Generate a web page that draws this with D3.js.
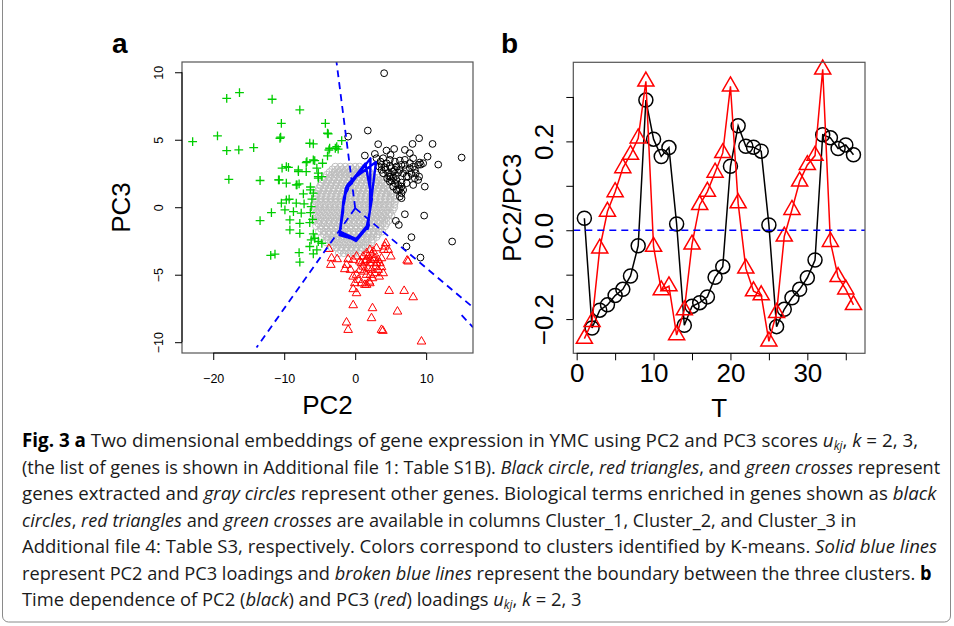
<!doctype html>
<html lang="en">
<head>
<meta charset="utf-8">
<title>Fig. 3</title>
<script src="https://cdn.jsdelivr.net/npm/d3@7"></script>
<style>
  body { margin: 0; background: #fff; }
  svg { display: block; font-family: "Liberation Sans", Arial, sans-serif; }
</style>
</head>
<body>
<script>
// ---- panel b: loadings u_kj against time T ----
var timeT = [1,2,3,4,5,6,7,8,9,10,11,12,13,14,15,16,17,18,19,20,21,22,23,24,25,26,27,28,29,30,31,32,33,34,35,36];
var pc2Loadings = [0.027,-0.220,-0.180,-0.168,-0.147,-0.133,-0.103,-0.035,0.293,0.205,0.166,0.186,
                   0.014,-0.214,-0.171,-0.163,-0.150,-0.106,-0.082,0.144,0.235,0.189,0.187,0.178,
                   0.012,-0.217,-0.178,-0.152,-0.133,-0.107,-0.067,0.215,0.208,0.184,0.192,0.170];
var pc3Loadings = [-0.244,-0.206,-0.041,0.042,0.086,0.140,0.170,0.207,0.335,-0.037,-0.135,-0.126,
                   -0.236,-0.180,-0.032,0.057,0.087,0.130,0.174,0.324,0.061,-0.086,-0.137,-0.146,
                   -0.250,-0.186,-0.014,0.046,0.110,0.147,0.168,0.362,-0.026,-0.105,-0.133,-0.168];
var bXTicks = [0,5,10,15,20,25,30,35];
var bXLabels = [0,10,20,30];
var bYTicks = [-0.2,-0.1,0,0.1,0.2,0.3];
var bYLabels = [-0.2,0,0.2];

// ---- panel a: PC2 / PC3 scores ----
var aXTicks = [-20,-10,0,10];
var aYTicks = [-10,-5,0,5,10];
var loadingScale = 10;   // loadings drawn on the score plane

// grey "other genes", one row per PC3 level
var grayRows = [
  [3.0, [-2.8,-2.1,-1.4,-0.7,0.0,0.6]],
  [2.8, [-3.2,-2.5,-1.8,-1.1,-0.4,0.3,1.0]],
  [2.6, [-3.6,-2.9,-2.2,-1.5,-0.8,-0.1,0.6,1.3,2.0]],
  [2.4, [-4.0,-3.3,-2.6,-1.9,-1.2,-0.5,0.2,0.9,1.6,2.3,3.0]],
  [2.2, [-4.3,-3.6,-2.9,-2.2,-1.5,-0.8,-0.1,0.6,1.3,2.0,2.7,3.3]],
  [2.0, [-4.5,-3.8,-3.1,-2.4,-1.7,-1.0,-0.3,0.4,1.1,1.8,2.5,3.2,3.8]],
  [1.8, [-4.7,-4.0,-3.3,-2.6,-1.9,-1.2,-0.5,0.2,0.9,1.6,2.3,3.0,3.7,4.2]],
  [1.6, [-4.9,-4.2,-3.5,-2.8,-2.1,-1.4,-0.7,0.0,0.7,1.4,2.1,2.8,3.5,4.2]],
  [1.4, [-5.1,-4.4,-3.7,-3.0,-2.3,-1.6,-0.9,-0.2,0.5,1.2,1.9,2.6,3.3,4.0,4.6]],
  [1.2, [-5.2,-4.5,-3.8,-3.1,-2.4,-1.7,-1.0,-0.3,0.4,1.1,1.8,2.5,3.2,3.9,4.6,5.0]],
  [1.0, [-5.4,-4.7,-4.0,-3.3,-2.6,-1.9,-1.2,-0.5,0.2,0.9,1.6,2.3,3.0,3.7,4.4,5.1]],
  [0.8, [-5.5,-4.8,-4.1,-3.4,-2.7,-2.0,-1.3,-0.6,0.1,0.8,1.5,2.2,2.9,3.6,4.3,5.0,5.5]],
  [0.6, [-5.6,-4.9,-4.2,-3.5,-2.8,-2.1,-1.4,-0.7,0.0,0.7,1.4,2.1,2.8,3.5,4.2,4.9,5.6]],
  [0.4, [-5.5,-4.8,-4.1,-3.4,-2.7,-2.0,-1.3,-0.6,0.1,0.8,1.5,2.2,2.9,3.6,4.3,5.0,5.6]],
  [0.2, [-5.8,-5.1,-4.4,-3.7,-3.0,-2.3,-1.6,-0.9,-0.2,0.5,1.2,1.9,2.6,3.3,4.0,4.7,5.5]],
  [0.0, [-5.6,-4.9,-4.2,-3.5,-2.8,-2.1,-1.4,-0.7,0.0,0.7,1.4,2.1,2.8,3.5,4.2,4.9,5.5]],
  [-0.2, [-5.9,-5.2,-4.5,-3.8,-3.1,-2.4,-1.7,-1.0,-0.3,0.4,1.1,1.8,2.5,3.2,3.9,4.6,5.3]],
  [-0.4, [-5.5,-4.8,-4.1,-3.4,-2.7,-2.0,-1.3,-0.6,0.1,0.8,1.5,2.2,2.9,3.6,4.3,4.9]],
  [-0.6, [-5.8,-5.1,-4.4,-3.7,-3.0,-2.3,-1.6,-0.9,-0.2,0.5,1.2,1.9,2.6,3.3,4.0,4.7,5.1]],
  [-0.8, [-5.4,-4.7,-4.0,-3.3,-2.6,-1.9,-1.2,-0.5,0.2,0.9,1.6,2.3,3.0,3.7,4.4]],
  [-1.0, [-5.7,-5.0,-4.3,-3.6,-2.9,-2.2,-1.5,-0.8,-0.1,0.6,1.3,2.0,2.7,3.4,4.1,4.7]],
  [-1.2, [-5.2,-4.5,-3.8,-3.1,-2.4,-1.7,-1.0,-0.3,0.4,1.1,1.8,2.5,3.2,3.9,4.4]],
  [-1.4, [-5.5,-4.8,-4.1,-3.4,-2.7,-2.0,-1.3,-0.6,0.1,0.8,1.5,2.2,2.9,3.6,4.2]],
  [-1.6, [-4.8,-4.1,-3.4,-2.7,-2.0,-1.3,-0.6,0.1,0.8,1.5,2.2,2.9,3.5]],
  [-1.8, [-5.1,-4.4,-3.7,-3.0,-2.3,-1.6,-0.9,-0.2,0.5,1.2,1.9,2.6,3.3,3.8]],
  [-2.0, [-4.4,-3.7,-3.0,-2.3,-1.6,-0.9,-0.2,0.5,1.2,1.9,2.6,3.2]],
  [-2.2, [-4.7,-4.0,-3.3,-2.6,-1.9,-1.2,-0.5,0.2,0.9,1.6,2.3,3.0]],
  [-2.4, [-3.8,-3.1,-2.4,-1.7,-1.0,-0.3,0.4,1.1,1.8,2.5]],
  [-2.6, [-4.1,-3.4,-2.7,-2.0,-1.3,-0.6,0.1,0.8,1.5,2.3]],
  [-2.8, [-3.0,-2.3,-1.6,-0.9,-0.2,0.5,1.2,1.8]],
  [-3.0, [-3.3,-2.6,-1.9,-1.2,-0.5,0.2,0.9,1.5]],
  [-3.2, [-2.0,-1.3,-0.6,0.1,0.8]],
  [-3.4, [-2.3,-1.6,-0.9,-0.2,0.5]]
];

var greenCrosses = [
  [-22.9,4.86],[-19.4,5.28],[-18.1,8.07],[-16.3,8.49],[-18.1,4.2],[-16.4,4.25],[-14.3,4.42],
  [-17.8,2.07],[-13.4,1.98],[-11.7,8.0],[-7.8,7.21],[-10.4,6.22],[-10.6,5.11],[-10.5,5.2],
  [-6.4,4.74],[-5.9,4.69],[-4.2,6.22],[-3.8,5.43],[-3.6,4.37],[-2.6,4.49],[-2.4,4.3],[-1.9,4.94],
  [-3.9,3.8],[-6.9,3.31],[-5.7,3.46],[-4.6,3.26],[-9.7,3.01],[-8.0,2.64],[-6.9,2.64],[-5.2,2.52],
  [-4.7,2.27],[-5.2,2.15],[-10.7,2.02],[-9.7,1.78],[-8.3,1.65],[-7.9,1.73],[-6.3,1.28],[-5.9,1.04],
  [-7.3,0.99],[-9.3,0.59],[-9.7,0.54],[-10.4,0.3],[-8.3,0.3],[-7.2,0.25],[-6.2,0.05],[-9.9,-0.2],
  [-8.7,-0.32],[-7.6,-0.44],[-6.3,-0.4],[-11.8,-0.4],[-9.2,-0.94],[-7.8,-1.19],[-6.4,-1.14],
  [-13.4,-0.99],[-9.2,-1.68],[-7.8,-1.93],[-5.9,-1.98],[-5.7,-2.3],[-6.2,-2.42],[-5.2,-2.54],
  [-4.7,-2.67],[-6.4,-2.91],[-5.4,-3.16],[-7.9,-3.36],[-11.9,-3.56],[-11.3,-3.48],[-7.8,-4.07],
  [-5.9,-3.46],[-10.3,2.89],[-6.8,3.38],[-5.9,3.5],[-5.4,2.9],[-8.0,2.76],[-9.4,2.96],[-8.2,1.65],
  [-6.3,1.5],[-5.2,2.27],[-10.8,2.02],[-3.7,4.24],[-2.8,4.37],[-3.9,5.48],[-6.0,-0.9],[-6.1,0.6]
];

var blackCircles = [
  [4.08,9.93],[1.78,5.68],[-0.99,5.23],[3.24,4.67],[1.36,3.83],[2.77,3.95],[4.41,4.2],[5.49,4.32],
  [4.98,3.88],[7.0,4.25],[8.08,4.69],[9.01,5.11],[10.9,4.69],[15.0,3.68],[11.7,3.16],[10.2,3.75],
  [9.25,3.16],[9.1,3.31],[8.17,3.63],[7.7,4.0],[7.0,3.51],[6.5,3.14],[5.82,3.01],[4.88,3.06],
  [4.18,2.96],[3.71,3.14],[3.57,3.38],[3.0,3.63],[3.94,3.63],[4.32,2.77],[4.65,2.52],[4.98,2.27],
  [5.35,2.15],[5.73,2.32],[6.06,2.57],[6.29,2.77],[6.76,2.52],[7.14,2.81],[7.46,2.27],[7.93,2.47],
  [8.4,2.15],[9.01,2.27],[8.87,2.02],[8.17,1.65],[7.23,1.78],[6.53,1.83],[6.06,1.65],[5.59,1.78],
  [5.12,1.98],[4.79,2.27],[5.35,2.64],[5.82,2.02],[6.29,1.33],[6.53,1.04],[6.29,0.79],[6.53,0.67],
  [9.81,1.53],[7.0,-0.52],[9.72,-0.62],[5.73,-1.01],[6.15,-1.31],[7.93,-2.22],[7.23,-2.91],
  [9.2,-3.73],[13.66,-2.54],[4.41,3.26],[5.12,2.89],[5.59,2.77],[4.88,1.9],[5.35,1.53],[5.82,1.28],
  [7.23,2.27],[7.7,2.89],[8.4,2.77],[8.87,3.14],[9.58,3.26],[5.59,3.38],[6.29,3.46],[7.0,3.14],
  [7.7,3.26],[8.17,3.01],[8.54,2.52],[4.51,2.15],[3.94,2.52],[3.71,2.77],[3.38,3.01],[4.88,3.51],
  [6.53,1.53],[6.06,1.28],[6.76,1.28]
];

var redTriangles = [
  [-3.71,-3.09],[-3.33,-3.78],[-2.54,-3.85],[-3.43,-4.27],[-0.99,-3.85],[-1.22,-4.27],[-1.46,-4.59],
  [-0.66,-4.64],[-0.28,-3.9],[0.19,-3.65],[0.66,-4.02],[1.13,-3.65],[1.6,-3.41],[2.07,-3.16],
  [2.54,-3.28],[3.0,-3.04],[1.6,-3.9],[2.07,-4.15],[2.54,-3.9],[3.0,-4.15],[1.13,-4.4],[0.66,-4.64],
  [0.19,-5.01],[0.42,-5.38],[0.89,-5.63],[1.36,-5.75],[1.97,-5.51],[2.44,-5.26],[2.77,-4.89],
  [3.24,-4.64],[3.71,-4.44],[3.94,-4.89],[3.47,-4.15],[4.18,-2.91],[4.65,-3.16],[5.02,-3.65],
  [4.32,-2.67],[-0.05,-5.63],[-0.28,-6.07],[0.19,-6.37],[1.6,-5.75],[2.07,-5.63],[-0.28,-7.26],
  [2.44,-7.48],[2.3,-8.22],[4.79,-6.2],[6.9,-6.2],[8.17,-6.67],[5.96,-7.73],[7.32,-3.95],
  [7.46,-4.02],[-1.22,-8.54],[-0.99,-9.09],[3.71,-9.09],[3.9,-9.16],[9.34,-9.95],[-0.28,-5.14],
  [1.83,-3.65],[2.3,-3.53],[2.77,-3.78],[1.36,-4.02],[0.89,-4.15],[1.83,-4.52],[2.3,-4.64],
  [2.91,-4.4],[3.24,-3.9],[3.71,-3.78],[2.16,-3.9],[1.22,-4.77],[1.6,-5.01],[2.16,-5.01],
  [3.38,-5.14],[4.04,-3.16]
];

// K-means boundaries: rays from a common centre
var boundaryCentre = [0, -0.07];
var boundaryEnds = [[-2.63, 10.76], [-13.9, -10.4], [16.6, -7.42]];
var boundaryExtra = [[15.0, -8.0], [16.6, -8.9]];

var captionLines = [
  [["Fig. 3", "b"], ["  a", "b"], [" Two dimensional embeddings of gene expression in YMC using PC2 and PC3 scores ", ""], ["u", "i"], ["kj", "s"], [", ", ""], ["k", "i"], [" = 2, 3,", ""]],
  [["(the list of genes is shown in Additional file 1: Table S1B). ", ""], ["Black circle", "i"], [", ", ""], ["red triangles", "i"], [", and ", ""], ["green crosses", "i"], [" represent", ""]],
  [["genes extracted and ", ""], ["gray circles", "i"], [" represent other genes. Biological terms enriched in genes shown as ", ""], ["black", "i"]],
  [["circles", "i"], [", ", ""], ["red triangles", "i"], [" and ", ""], ["green crosses", "i"], [" are available in columns Cluster_1, Cluster_2, and Cluster_3 in", ""]],
  [["Additional file 4: Table S3, respectively. Colors correspond to clusters identified by K-means. ", ""], ["Solid blue lines", "i"]],
  [["represent PC2 and PC3 loadings and ", ""], ["broken blue lines", "i"], [" represent the boundary between the three clusters. ", ""], ["b", "b"]],
  [["Time dependence of PC2 (", ""], ["black", "i"], [") and PC3 (", ""], ["red", "i"], [") loadings ", ""], ["u", "i"], ["kj", "s"], [", ", ""], ["k", "i"], [" = 2, 3", ""]]
];
var captionEnds = [919, 941, 937, 857, 938, 932, 582];

var W = 954, H = 626;
var svg = d3.select("body").append("svg").attr("width", W).attr("height", H);

// outer frame
svg.append("rect").attr("x", 2.5).attr("y", -8).attr("width", 948).attr("height", 630)
   .attr("rx", 6).attr("fill", "none").attr("stroke", "#8a8a8a").attr("stroke-width", 1);

function tri(r) {
  var h = r * Math.sqrt(3) / 2;
  return "M0," + (-r) + "L" + h + "," + (r / 2) + "L" + (-h) + "," + (r / 2) + "Z";
}

function styleAxis(g, size) {
  g.attr("font-family", null).attr("font-size", null);
  g.selectAll(".tick line").attr("stroke", "#000").attr("stroke-width", 1);
  g.selectAll(".tick text").attr("fill", "#000").style("font-size", size + "px");
}

// ================= panel a =================
var boxA = {x0: 182, x1: 473, y0: 62, y1: 353};
var xA = d3.scaleLinear().domain([-24.4, 16.6]).range([boxA.x0, boxA.x1]);
var yA = d3.scaleLinear().domain([-10.8, 10.76]).range([boxA.y1, boxA.y0]);

svg.append("clipPath").attr("id", "clipA").append("rect")
   .attr("x", boxA.x0).attr("y", boxA.y0).attr("width", boxA.x1 - boxA.x0).attr("height", boxA.y1 - boxA.y0);
var plotA = svg.append("g").attr("clip-path", "url(#clipA)");

var grayPts = [];
grayRows.forEach(function(row) {
  row[1].forEach(function(x) { grayPts.push([x, row[0]]); });
});

plotA.selectAll("circle.gray").data(grayPts).enter().append("circle")
     .attr("class", "gray")
     .attr("cx", d => xA(d[0])).attr("cy", d => yA(d[1])).attr("r", 3.5)
     .attr("fill", "none").attr("stroke", "#bebebe").attr("stroke-width", 1);

plotA.selectAll("path.cross").data(greenCrosses).enter().append("path")
     .attr("class", "cross")
     .attr("transform", d => "translate(" + xA(d[0]) + "," + yA(d[1]) + ")")
     .attr("d", "M-4.4,0H4.4M0,-4.4V4.4")
     .attr("stroke", "#00cd00").attr("stroke-width", 1.3).attr("fill", "none");

plotA.selectAll("circle.black").data(blackCircles).enter().append("circle")
     .attr("class", "black")
     .attr("cx", d => xA(d[0])).attr("cy", d => yA(d[1])).attr("r", 3.4)
     .attr("fill", "none").attr("stroke", "#000").attr("stroke-width", 1);

plotA.selectAll("path.tri").data(redTriangles).enter().append("path")
     .attr("class", "tri")
     .attr("transform", d => "translate(" + xA(d[0]) + "," + yA(d[1]) + ")")
     .attr("d", tri(5))
     .attr("stroke", "#ff0000").attr("stroke-width", 1).attr("fill", "none");

// boundaries (broken blue)
boundaryEnds.forEach(function(e) {
  plotA.append("line")
       .attr("x1", xA(boundaryCentre[0])).attr("y1", yA(boundaryCentre[1]))
       .attr("x2", xA(e[0])).attr("y2", yA(e[1]))
       .attr("stroke", "#0000ff").attr("stroke-width", 1.8).attr("stroke-dasharray", "7,5");
});
plotA.append("line")
     .attr("x1", xA(boundaryExtra[0][0])).attr("y1", yA(boundaryExtra[0][1]))
     .attr("x2", xA(boundaryExtra[1][0])).attr("y2", yA(boundaryExtra[1][1]))
     .attr("stroke", "#0000ff").attr("stroke-width", 1.8).attr("stroke-dasharray", "7,5");

// loadings (solid blue)
var loadPts = timeT.map((t, i) => [pc2Loadings[i] * loadingScale, pc3Loadings[i] * loadingScale]);
plotA.append("path").datum(loadPts)
     .attr("d", d3.line().x(d => xA(d[0])).y(d => yA(d[1])))
     .attr("fill", "none").attr("stroke", "#0000ff").attr("stroke-width", 2.4)
     .attr("stroke-linejoin", "round");

svg.append("rect").attr("x", boxA.x0).attr("y", boxA.y0)
   .attr("width", boxA.x1 - boxA.x0).attr("height", boxA.y1 - boxA.y0)
   .attr("fill", "none").attr("stroke", "#555").attr("stroke-width", 1.2);

var axAx = svg.append("g").attr("transform", "translate(0," + boxA.y1 + ")")
   .call(d3.axisBottom(xA).tickValues(aXTicks).tickSize(7).tickSizeOuter(0)
         .tickFormat(d => d < 0 ? "\u2212" + (-d) : d));
axAx.select(".domain").remove();
styleAxis(axAx, 12.5);
axAx.selectAll(".tick text").attr("y", 30).attr("dy", null);
axAx.append("line").attr("x1", xA(aXTicks[0])).attr("x2", xA(aXTicks[aXTicks.length - 1]))
    .attr("stroke", "#000");

var axAy = svg.append("g").attr("transform", "translate(" + boxA.x0 + ",0)")
   .call(d3.axisLeft(yA).tickValues(aYTicks).tickSize(7).tickSizeOuter(0)
         .tickFormat(d => d < 0 ? "\u2212" + (-d) : d));
axAy.select(".domain").remove();
styleAxis(axAy, 12.5);
axAy.selectAll(".tick text").attr("x", null).attr("dy", null)
    .attr("transform", "translate(-19.5,0) rotate(-90)").attr("text-anchor", "middle");
axAy.append("line").attr("y1", yA(aYTicks[0])).attr("y2", yA(aYTicks[aYTicks.length - 1]))
    .attr("stroke", "#000");

svg.append("text").attr("x", (boxA.x0 + boxA.x1) / 2).attr("y", 414)
   .attr("text-anchor", "middle").style("font-size", "26px").text("PC2");
svg.append("text").attr("transform", "translate(130," + ((boxA.y0 + boxA.y1) / 2) + ") rotate(-90)")
   .attr("text-anchor", "middle").style("font-size", "26px").text("PC3");
svg.append("text").attr("x", 112).attr("y", 53).style("font-size", "28px")
   .style("font-weight", "bold").text("a");

// ================= panel b =================
var boxB = {x0: 573.3, x1: 865, y0: 62.3, y1: 353.3};
var xB = d3.scaleLinear().domain([-0.44, 37.5]).range([boxB.x0, boxB.x1]);
var yB = d3.scaleLinear().domain([-0.277, 0.378]).range([boxB.y1, boxB.y0]);

var plotB = svg.append("g");
var series = [
  {vals: pc2Loadings, color: "#000", shape: "circle"},
  {vals: pc3Loadings, color: "#ff0000", shape: "tri"}
];
series.forEach(function(s) {
  var pts = timeT.map((t, i) => [t, s.vals[i]]);
  plotB.append("path").datum(pts)
       .attr("d", d3.line().x(d => xB(d[0])).y(d => yB(d[1])))
       .attr("fill", "none").attr("stroke", s.color).attr("stroke-width", 1.5);
  if (s.shape === "circle") {
    plotB.selectAll(null).data(pts).enter().append("circle")
         .attr("cx", d => xB(d[0])).attr("cy", d => yB(d[1])).attr("r", 7)
         .attr("fill", "none").attr("stroke", s.color).attr("stroke-width", 1.5);
  } else {
    plotB.selectAll(null).data(pts).enter().append("path")
         .attr("transform", d => "translate(" + xB(d[0]) + "," + yB(d[1]) + ")")
         .attr("d", tri(9.3))
         .attr("fill", "none").attr("stroke", s.color).attr("stroke-width", 1.5);
  }
});

plotB.append("line").attr("x1", boxB.x0).attr("x2", boxB.x1)
     .attr("y1", yB(0)).attr("y2", yB(0))
     .attr("stroke", "#0000ff").attr("stroke-width", 1.5).attr("stroke-dasharray", "7,5");

svg.append("rect").attr("x", boxB.x0).attr("y", boxB.y0)
   .attr("width", boxB.x1 - boxB.x0).attr("height", boxB.y1 - boxB.y0)
   .attr("fill", "none").attr("stroke", "#555").attr("stroke-width", 1.2);

var axBx = svg.append("g").attr("transform", "translate(0," + boxB.y1 + ")")
   .call(d3.axisBottom(xB).tickValues(bXTicks).tickSize(7).tickSizeOuter(0)
         .tickFormat(d => bXLabels.indexOf(d) >= 0 ? d : ""));
axBx.select(".domain").remove();
styleAxis(axBx, 26);
axBx.selectAll(".tick text").attr("y", 29).attr("dy", null);
axBx.append("line").attr("x1", xB(bXTicks[0])).attr("x2", xB(bXTicks[bXTicks.length - 1]))
    .attr("stroke", "#000");

var axBy = svg.append("g").attr("transform", "translate(" + boxB.x0 + ",0)")
   .call(d3.axisLeft(yB).tickValues(bYTicks).tickSize(7).tickSizeOuter(0)
         .tickFormat(d => {
           if (!bYLabels.some(v => Math.abs(v - d) < 1e-9)) return "";
           var s = Math.abs(d).toFixed(1);
           return d < -1e-9 ? "\u2212" + s : s;
         }));
axBy.select(".domain").remove();
styleAxis(axBy, 26);
axBy.selectAll(".tick text").attr("x", null).attr("dy", null)
    .attr("transform", "translate(-20.5,0) rotate(-90)").attr("text-anchor", "middle");
axBy.append("line").attr("y1", yB(bYTicks[0])).attr("y2", yB(bYTicks[bYTicks.length - 1]))
    .attr("stroke", "#000");

svg.append("text").attr("x", (boxB.x0 + boxB.x1) / 2).attr("y", 417)
   .attr("text-anchor", "middle").style("font-size", "26px").text("T");
svg.append("text").attr("transform", "translate(521," + ((boxB.y0 + boxB.y1) / 2) + ") rotate(-90)")
   .attr("text-anchor", "middle").style("font-size", "26px").text("PC2/PC3");
svg.append("text").attr("x", 501).attr("y", 53).style("font-size", "28px")
   .style("font-weight", "bold").text("b");

// ================= caption =================
// each line is set in a normal font, then squeezed horizontally to the measured width
var capG = svg.append("g").style("font-family", "'Open Sans', 'Liberation Sans', sans-serif")
   .style("font-size", "19px").attr("fill", "#1a1a1a");
captionLines.forEach(function(line, i) {
  var t = capG.append("text").attr("x", 0).attr("y", 0);
  line.forEach(function(seg, j) {
    var sp = t.append("tspan").text(seg[0]);
    if (seg[1] === "b") sp.style("font-weight", "bold").attr("fill", "#000");
    if (seg[1] === "i") sp.style("font-style", "italic");
    if (seg[1] === "s") sp.style("font-style", "italic").style("font-size", "12px").attr("dy", 2.5);
    if (j > 0 && line[j - 1][1] === "s") sp.attr("dy", -2.5);
  });
  var natural = t.node().getComputedTextLength();
  var sx = (captionEnds[i] - 22) / natural;
  t.attr("transform", "translate(22," + (447 + i * 26.5) + ") scale(" + sx + ",1)");
});
</script>
</body>
</html>
